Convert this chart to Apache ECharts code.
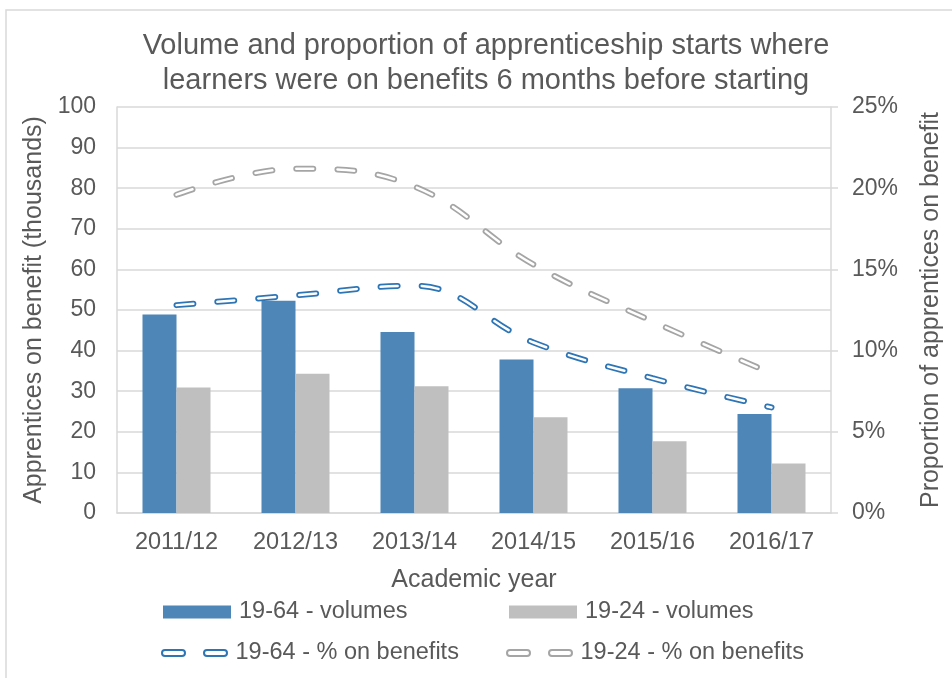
<!DOCTYPE html>
<html>
<head>
<meta charset="utf-8">
<script src="https://cdn.jsdelivr.net/npm/echarts@6/dist/echarts.min.js"></script>
<style>
html,body{margin:0;padding:0;background:#fff;}
#main{width:952px;height:678px;}
</style>
</head>
<body>
<div id="main"></div>
<script>
var years = ['2011/12','2012/13','2013/14','2014/15','2015/16','2016/17'];
// volumes in thousands
var vol1964 = [48.9, 52.3, 44.6, 37.8, 30.7, 24.4];
var vol1924 = [30.9, 34.3, 31.2, 23.6, 17.7, 12.2];
// percent on benefits
var pct1964 = [12.8, 13.4, 14.0, 10.5, 8.3, 6.5];
var pct1924 = [19.6, 21.2, 20.1, 15.3, 11.8, 8.6];

var font = "'Liberation Sans', Arial, sans-serif";
var txt = '#595959';
var gridCol = '#D9D9D9';
var blue = '#4F86B8', grey = '#BFBFBF';
var blueLine = '#2E75B6', greyLine = '#A5A5A5';

// two rounded dashes for the line legend icons
var dashIcon = 'path://M3,0H20A3,3 0 0 1 20,6H3A3,3 0 0 1 3,0ZM45,0H62A3,3 0 0 1 62,6H45A3,3 0 0 1 45,0Z';

function legendBox(name, left, top, icon, w, h, style){
	var item = {name: name, icon: icon};
	if(style) item.itemStyle = style;
	return {
		data: [item],
		left: left, top: top,
		padding: 0,
		itemWidth: w, itemHeight: h,
		selectedMode: false,
		textStyle: {fontFamily: font, fontSize: 23.5, color: txt, padding: [0,0,0,3]}
	};
}

function outlineLine(name, data, color){
	return [{
		name: name, type: 'line', yAxisIndex: 1, data: data,
		smooth: 0.4, symbol: 'none', silent: true,
		lineStyle: {color: color, width: 6, type: [17, 24], cap: 'round'},
		itemStyle: {color: color}
	},{
		name: name + '_inner', type: 'line', yAxisIndex: 1, data: data,
		smooth: 0.4, symbol: 'none', silent: true,
		lineStyle: {color: '#ffffff', width: 2.5, type: [17, 24], cap: 'round'},
		itemStyle: {color: '#ffffff'}
	}];
}

var myChart = echarts.init(document.getElementById('main'));

var option = {
	animation: false,
	backgroundColor: '#fff',
	textStyle: {fontFamily: font},
	title: {
		text: 'Volume and proportion of apprenticeship starts where\nlearners were on benefits 6 months before starting',
		left: 481, top: 23, textAlign: 'center',
		textStyle: {fontFamily: font, fontSize: 29, fontWeight: 'normal', color: txt, lineHeight: 35}
	},
	graphic: [{
		type: 'rect', silent: true,
		shape: {x: 6, y: 10, width: 970, height: 700},
		style: {fill: 'none', stroke: gridCol, lineWidth: 1.5}
	}],
	legend: [
		legendBox('19-64 - volumes', 163, 600, 'rect', 68, 13),
		legendBox('19-24 - volumes', 509, 600, 'rect', 68, 13),
		legendBox('19-64 - % on benefits', 161, 641, dashIcon, 66, 6, {color: '#fff', borderColor: blueLine, borderWidth: 2}),
		legendBox('19-24 - % on benefits', 506, 641, dashIcon, 66, 6, {color: '#fff', borderColor: greyLine, borderWidth: 2})
	],
	grid: {left: 117, right: 111, top: 107, bottom: 165},
	xAxis: {
		type: 'category',
		data: years,
		name: 'Academic year',
		nameLocation: 'middle',
		nameGap: 55,
		nameTextStyle: {fontFamily: font, fontSize: 25, color: txt},
		axisLine: {lineStyle: {color: gridCol, width: 1.5}},
		axisTick: {show: false},
		axisLabel: {fontFamily: font, fontSize: 23.5, color: txt, margin: 18}
	},
	yAxis: [{
		type: 'value', min: 0, max: 100, interval: 10,
		name: 'Apprentices on benefit (thousands)',
		nameLocation: 'middle', nameRotate: 90, nameGap: 67,
		nameTextStyle: {fontFamily: font, fontSize: 25, color: txt},
		axisLine: {show: true, lineStyle: {color: gridCol, width: 1.5}},
		axisTick: {show: false},
		axisLabel: {fontFamily: font, fontSize: 23, color: txt, margin: 21},
		splitLine: {lineStyle: {color: gridCol, width: 1.5}}
	},{
		type: 'value', min: 0, max: 25, interval: 5,
		position: 'right',
		name: 'Proportion of apprentices on benefit',
		nameLocation: 'middle', nameRotate: 90, nameGap: 88,
		nameTextStyle: {fontFamily: font, fontSize: 25, color: txt},
		axisLine: {show: true, lineStyle: {color: gridCol, width: 1.5}},
		axisTick: {show: true, length: 7, lineStyle: {color: gridCol, width: 1.5}},
		axisLabel: {fontFamily: font, fontSize: 23, color: txt, margin: 21, formatter: '{value}%'},
		splitLine: {show: false}
	}],
	series: [{
		name: '19-64 - volumes', type: 'bar', data: vol1964,
		barWidth: 34, barGap: '0%',
		itemStyle: {color: blue}
	},{
		name: '19-24 - volumes', type: 'bar', data: vol1924,
		barWidth: 34, barGap: '0%',
		itemStyle: {color: grey}
	}].concat(outlineLine('19-64 - % on benefits', pct1964, blueLine))
	  .concat(outlineLine('19-24 - % on benefits', pct1924, greyLine))
};

myChart.setOption(option);
</script>
</body>
</html>
